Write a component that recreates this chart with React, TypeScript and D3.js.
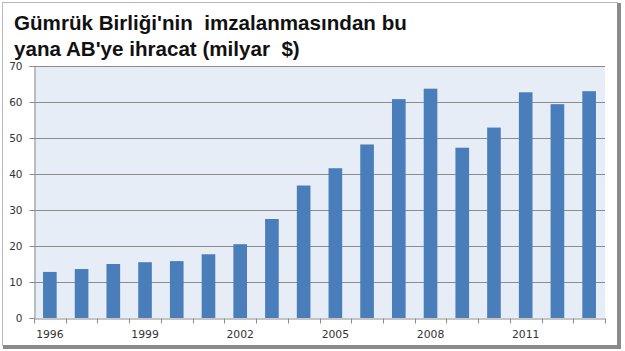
import { useRef, useEffect } from "react";
import * as d3 from "d3";

const years = ["1996","1997","1998","1999","2000","2001","2002","2003","2004","2005","2006","2007","2008","2009","2010","2011","2012","2013"];
const exports = [12.8, 13.6, 15.0, 15.5, 15.8, 17.7, 20.5, 27.5, 36.8, 41.6, 48.2, 60.8, 63.7, 47.3, 52.9, 62.7, 59.4, 63.0];
const yTicks = [0, 10, 20, 30, 40, 50, 60, 70];
const shownYears = ["1996","1999","2002","2005","2008","2011"];
const titleLines = ["Gümrük Birliği'nin  imzalanmasından bu", "yana AB'ye ihracat (milyar  $)"];

export default function App() {
  const svgRef = useRef(null);

  useEffect(() => {
    const width = 625;
    const height = 351;
    const svg = d3.select(svgRef.current);
    svg.selectAll("*").remove();

    const left = 34, right = 605, top = 66, bottom = 318;
    const tickFont = "DejaVu Sans, Verdana, sans-serif";

    // frame
    svg.append("rect").attr("width", width).attr("height", height).attr("fill", "#fff");
    svg.append("rect")
      .attr("x", 2.5).attr("y", 2.5).attr("width", 615).attr("height", 343)
      .attr("fill", "#fff").attr("stroke", "#b8b8b8");
    svg.append("rect").attr("x", 617).attr("y", 3).attr("width", 4).attr("height", 346).attr("fill", "#8a8a8a");
    svg.append("rect").attr("x", 3).attr("y", 345).attr("width", 618).attr("height", 4).attr("fill", "#8a8a8a");

    // title
    svg.append("g")
      .selectAll("text")
      .data(titleLines)
      .join("text")
      .attr("x", 14)
      .attr("y", (d, i) => 30 + i * 26)
      .attr("font-family", "Liberation Sans, Arial, sans-serif")
      .attr("font-weight", "bold")
      .attr("font-size", 20.6)
      .attr("fill", "#111")
      .style("white-space", "pre")
      .text(d => d);

    const x = d3.scaleBand().domain(years).range([left, right]).paddingInner(0.57).paddingOuter(0.285);
    const xTicks = d3.scaleBand().domain(years).range([left, right]);
    const y = d3.scaleLinear().domain([0, 70]).range([bottom, top]);

    svg.append("rect")
      .attr("x", left).attr("y", top).attr("width", right - left).attr("height", bottom - top)
      .attr("fill", "#e7edf6");

    // gridlines
    svg.append("g")
      .selectAll("line")
      .data(yTicks.filter(d => d > 0))
      .join("line")
      .attr("x1", left).attr("x2", right)
      .attr("y1", d => Math.round(y(d)) + 0.5).attr("y2", d => Math.round(y(d)) + 0.5)
      .attr("stroke", "#8c8c8c").attr("stroke-width", 1);

    // bars
    svg.append("g")
      .selectAll("rect")
      .data(exports)
      .join("rect")
      .attr("x", (d, i) => x(years[i]))
      .attr("width", x.bandwidth())
      .attr("y", d => y(d))
      .attr("height", d => y(0) - y(d))
      .attr("fill", "#4a7ebb");

    // y axis
    const yAxis = svg.append("g")
      .attr("transform", `translate(${left + 0.5},0)`)
      .call(d3.axisLeft(y).tickValues(yTicks).tickSize(5).tickPadding(7).tickFormat(d3.format("d")));
    yAxis.select(".domain").attr("stroke", "#8c8c8c");
    yAxis.selectAll(".tick line").attr("stroke", "#8c8c8c");
    yAxis.selectAll("text").attr("font-family", tickFont).attr("font-size", 10.5).attr("fill", "#333");

    // x axis
    const xAxis = svg.append("g")
      .attr("transform", `translate(0,${bottom + 0.5})`)
      .call(d3.axisBottom(xTicks).tickSize(0).tickPadding(12).tickFormat(d => shownYears.includes(d) ? d : ""));
    xAxis.select(".domain").attr("stroke", "#8c8c8c");
    xAxis.selectAll("text").attr("font-family", tickFont).attr("font-size", 10.8).attr("fill", "#333");
    xAxis.append("g")
      .selectAll("line")
      .data(years.map(d => xTicks(d)).concat([right]))
      .join("line")
      .attr("x1", d => Math.round(d) + 0.5).attr("x2", d => Math.round(d) + 0.5)
      .attr("y1", 0).attr("y2", 5)
      .attr("stroke", "#8c8c8c");
  }, []);

  return (
    <svg ref={svgRef} width={625} height={351} style={{ position: "absolute", left: 0, top: 0 }} />
  );
}
